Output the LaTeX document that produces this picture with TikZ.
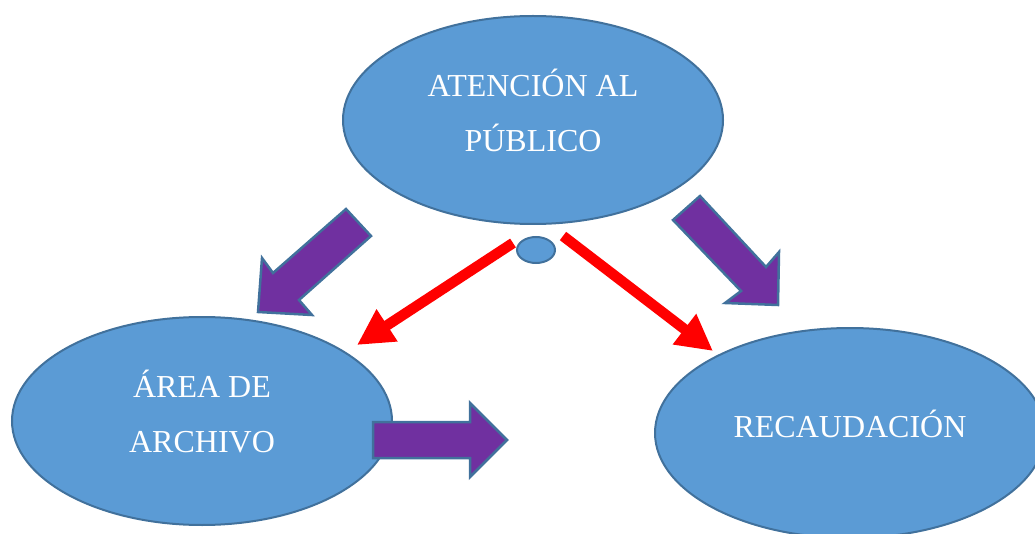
\documentclass[tikz,border=0pt]{standalone}
\usepackage{fontspec}
\setmainfont{Liberation Serif}
\usetikzlibrary{positioning, shapes, arrows.meta, calc}

\definecolor{areablue}{HTML}{5B9BD5}
\definecolor{edgeblue}{HTML}{41719C}
\definecolor{flowpurple}{HTML}{7030A0}

\tikzset{
  area/.style={ellipse, draw=edgeblue, line width=2pt, fill=areablue, text=white,
    align=center, inner sep=0pt, minimum width=380pt, minimum height=208pt,
    text depth=19pt, font=\fontsize{32pt}{55pt}\selectfont},
  blockarrow/.style={draw=edgeblue, line width=2.5pt, fill=flowpurple, line join=miter},
  redlink/.style={red, line width=10.5pt, -{Triangle[length=36pt, width=36pt]}}
}

\begin{document}
\begin{tikzpicture}[x=1pt, y=-1pt]
  \clip (0,0) rectangle (1035,534);

  % Areas
  \node[area] (atencion) at (533,120) {ATENCIÓN AL\\PÚBLICO};
  \node[area] (archivo) at (202,421) {ÁREA DE\\ARCHIVO};
  \node[area, minimum width=390pt, minimum height=210pt] (recaudacion) at (850,433) {RECAUDACIÓN};
  \node[ellipse, draw=edgeblue, line width=2pt, fill=areablue, minimum width=38pt, minimum height=26pt] (enlace) at (536,250) {};

  % Purple block arrows
  \draw[blockarrow] (346,209) -- (371,236) -- (299,300) -- (312,315) -- (258,312) -- (262,258) -- (273,273) -- cycle;
  \draw[blockarrow] (700,196) -- (766,267) -- (779,252) -- (778,305) -- (725,303) -- (741,291) -- (673,220) -- cycle;
  \draw[blockarrow] (373,422) -- (470,422) -- (470,403) -- (507,440) -- (470,477) -- (470,458) -- (373,458) -- cycle;

  % Red links from the small node
  \coordinate (izq) at (513,243);
  \coordinate (der) at (563,236);
  \coordinate (izqfin) at (357,345);
  \coordinate (derfin) at (713,351);
  \draw[redlink] (izq) -- (izqfin);
  \draw[redlink] (der) -- (derfin);
\end{tikzpicture}
\end{document}
